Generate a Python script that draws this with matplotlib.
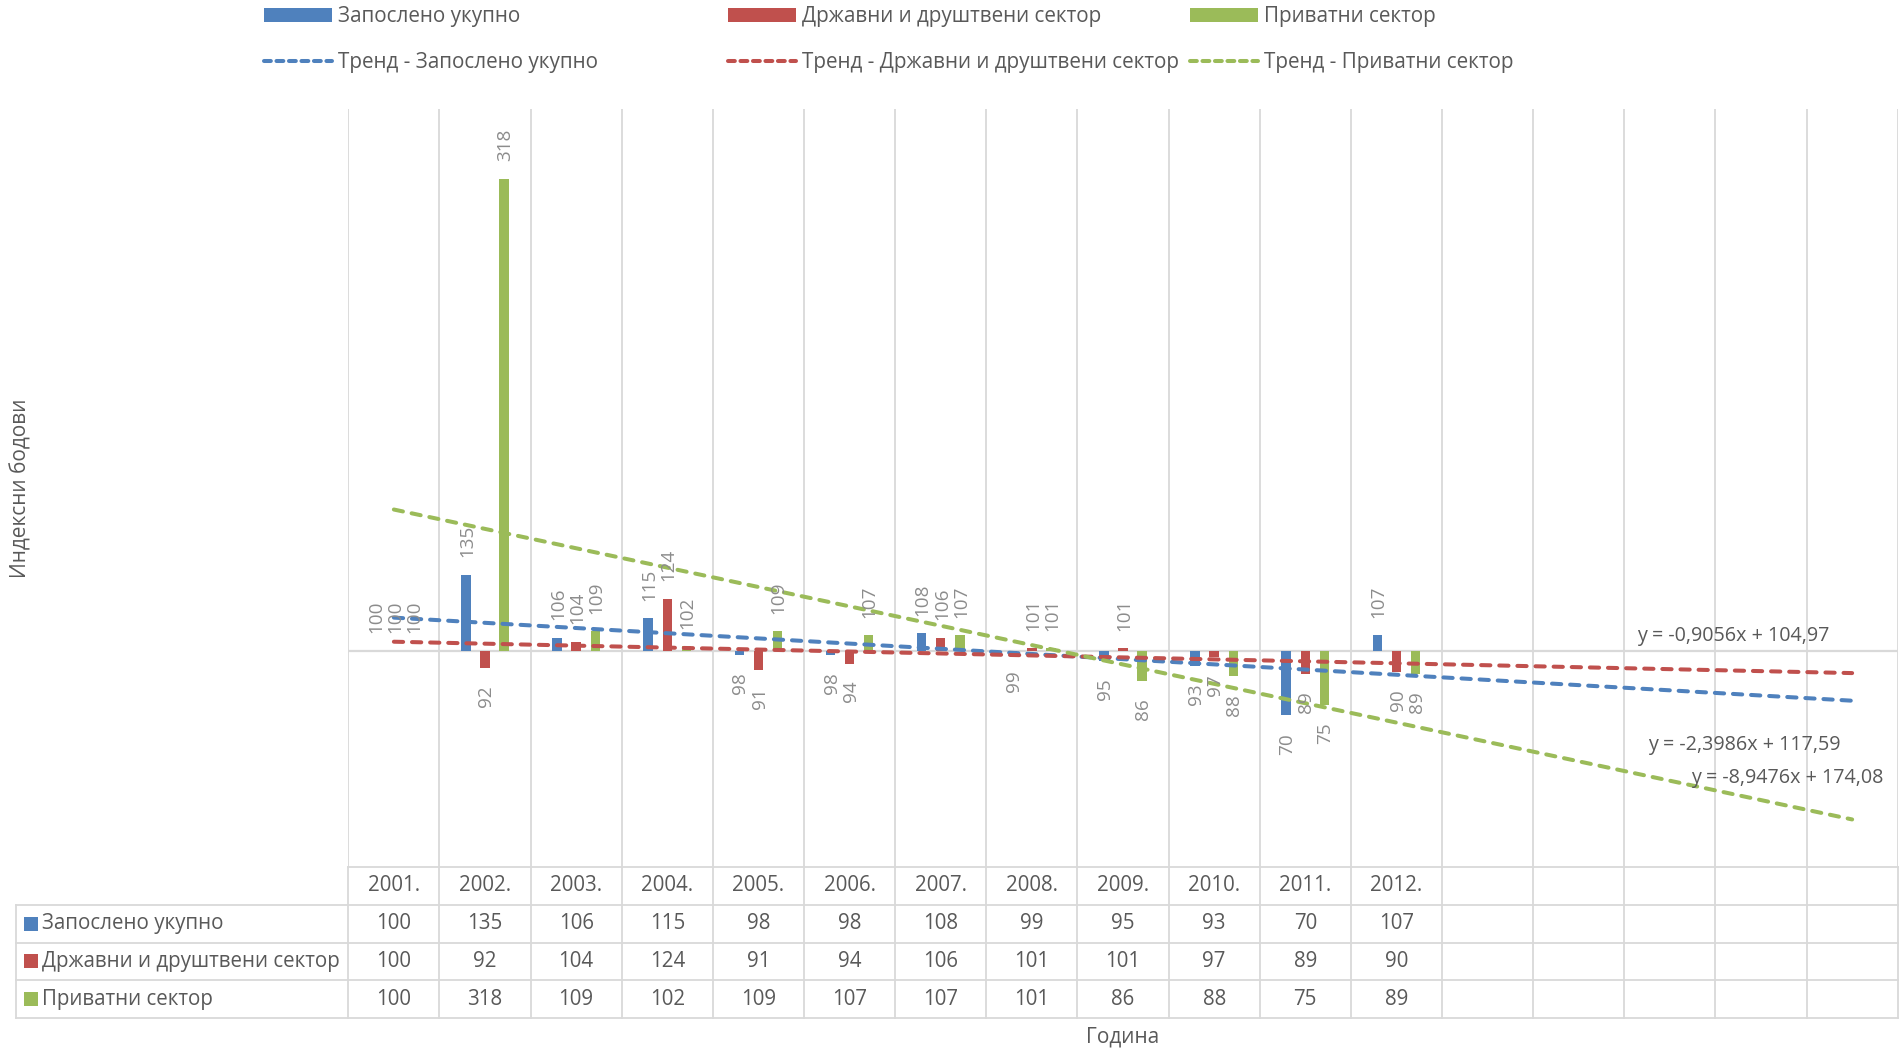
import numpy as np
import matplotlib
matplotlib.use('Agg')
import matplotlib.pyplot as plt
from matplotlib.patches import Rectangle
from matplotlib.lines import Line2D

plt.rcParams['font.family'] = ['Open Sans', 'DejaVu Sans']

# ---------------- data ----------------
years = ['2001.', '2002.', '2003.', '2004.', '2005.', '2006.', '2007.',
         '2008.', '2009.', '2010.', '2011.', '2012.']
forecast_periods = 5
series_names = ['Запослено укупно', 'Државни и друштвени сектор', 'Приватни сектор']
total = [100, 135, 106, 115, 98, 98, 108, 99, 95, 93, 70, 107]
state = [100, 92, 104, 124, 91, 94, 106, 101, 101, 97, 89, 90]
private = [100, 318, 109, 102, 109, 107, 107, 101, 86, 88, 75, 89]
series_values = [total, state, private]
trend_prefix = 'Тренд - '
y_title = 'Индексни бодови'
x_title = 'Година'
base_value = 100

# ---------------- style ----------------
colors = ['#4F81BD', '#C0504D', '#9BBB59']
grid_color = '#d9d9d9'
text_color = '#595959'
label_color = '#8c8c8c'
W, H = 1904, 1052

# layout in pixels
plot_left, plot_right, plot_top, plot_bottom = 348.3, 1897.7, 109.3, 867.0
table_bottom = 1018.0
header_left_px = 15.7

def fx(px):
    return px / W

def fy(py):
    return 1 - py / H

fig = plt.figure(figsize=(W / 100, H / 100), dpi=100)
fig.patch.set_facecolor('white')

n_cols = len(years) + forecast_periods
col_px = (plot_right - plot_left) / n_cols

ax = fig.add_axes([fx(plot_left), fy(plot_bottom), (plot_right - plot_left) / W,
                   (plot_bottom - plot_top) / H])
ax.set_xlim(-0.5, n_cols - 0.5)
ax.set_ylim(0, 350)
ax.axis('off')

for k in range(n_cols + 1):
    ax.axvline(k - 0.5, color=grid_color, lw=1.3, zorder=0)
ax.axhline(base_value, color=grid_color, lw=1.6, zorder=1)

x = np.arange(len(years))
bar_w = 0.104
offsets = [-0.21, 0.0, 0.21]
for vals, c, off in zip(series_values, colors, offsets):
    v = np.array(vals, dtype=float)
    ax.bar(x + off, v - base_value, bottom=base_value, width=bar_w, color=c,
           zorder=2, linewidth=0)
    for xi, vi in zip(x + off, v):
        up = vi >= base_value
        ax.annotate(f'{vi:g}', xy=(xi, vi), xytext=(0.8, 12.5 if up else -12.5),
                    textcoords='offset points', rotation=90, ha='center',
                    va='bottom' if up else 'top', fontsize=13.6, color=label_color,
                    zorder=5)

# linear trend lines (Excel style, x = 1..n, forecast forward)
xt = np.arange(1, len(years) + 1)
xf = np.arange(1, n_cols + 1)
eq_pos = [(14.82, 56.3), (14.70, 106.8), (15.29, 41.1)]
for vals, c, pos in zip(series_values, colors, eq_pos):
    m, b = np.polyfit(xt, vals, 1)
    ax.plot(xf - 1, m * xf + b, color=c, lw=2.9, dashes=(2.3, 2.2),
            dash_capstyle='round', zorder=3)
    eq = f'y = {m:.4f}x + {b:.2f}'.replace('.', ',')
    ax.text(pos[0], pos[1], eq, ha='center', va='center', fontsize=14.2,
            color=text_color, zorder=6)

# ---------------- data table ----------------
tax = fig.add_axes([fx(plot_left), fy(table_bottom), (plot_right - plot_left) / W,
                    (table_bottom - plot_bottom) / H])
tax.set_xlim(-0.5, n_cols - 0.5)
tax.set_ylim(4, 0)
tax.axis('off')

def tx(px):
    return -0.5 + (px - plot_left) / col_px

hl = tx(header_left_px)
lw_t = 1.3
tax.plot([-0.5, n_cols - 0.5], [0, 0], color=grid_color, lw=lw_t, clip_on=False)
for r in range(1, 5):
    tax.plot([hl, n_cols - 0.5], [r, r], color=grid_color, lw=lw_t, clip_on=False)
for k in range(n_cols + 1):
    tax.plot([k - 0.5, k - 0.5], [0, 4], color=grid_color, lw=lw_t, clip_on=False)
tax.plot([hl, hl], [1, 4], color=grid_color, lw=lw_t, clip_on=False)

fs_tab = 14.8
for i, yr in enumerate(years):
    tax.text(i, 0.5, yr, ha='center', va='center', fontsize=fs_tab, color=text_color)
row_px = (table_bottom - plot_bottom) / 4
key_h = 14 / row_px
for r, (name, vals, c) in enumerate(zip(series_names, series_values, colors), start=1):
    tax.add_patch(Rectangle((tx(24), r + 0.5 - key_h / 2), tx(38) - tx(24), key_h,
                            color=c, clip_on=False, lw=0))
    tax.text(tx(42.5), r + 0.5, name, ha='left', va='center', fontsize=fs_tab,
             color=text_color, clip_on=False)
    for i, v in enumerate(vals):
        tax.text(i, r + 0.5, f'{v:g}', ha='center', va='center', fontsize=fs_tab,
                 color=text_color)

# ---------------- legend ----------------
legend_x = [264, 728, 1190]
for name, c, lx in zip(series_names, colors, legend_x):
    handles = [Rectangle((0, 0), 1, 1, color=c, lw=0),
               Line2D([0], [0], color=c, lw=2.9, dashes=(1.7, 1.4),
                      dash_capstyle='round')]
    fig.legend(handles, [name, trend_prefix + name], loc='center left',
               bbox_to_anchor=(fx(lx), fy(39.5)), frameon=False, borderpad=0,
               borderaxespad=0, handlelength=3.3, handleheight=0.66,
               handletextpad=0.3, labelspacing=1.2, fontsize=14.9,
               labelcolor=text_color)

# ---------------- axis titles ----------------
fig.text(fx(21), fy((plot_top + plot_bottom) / 2), y_title, rotation=90,
         ha='center', va='center', fontsize=15, color=text_color)
fig.text(fx((plot_left + plot_right) / 2), fy(1037), x_title, ha='center',
         va='center', fontsize=15, color=text_color)

fig.savefig('out.png', dpi=100, facecolor='white')
